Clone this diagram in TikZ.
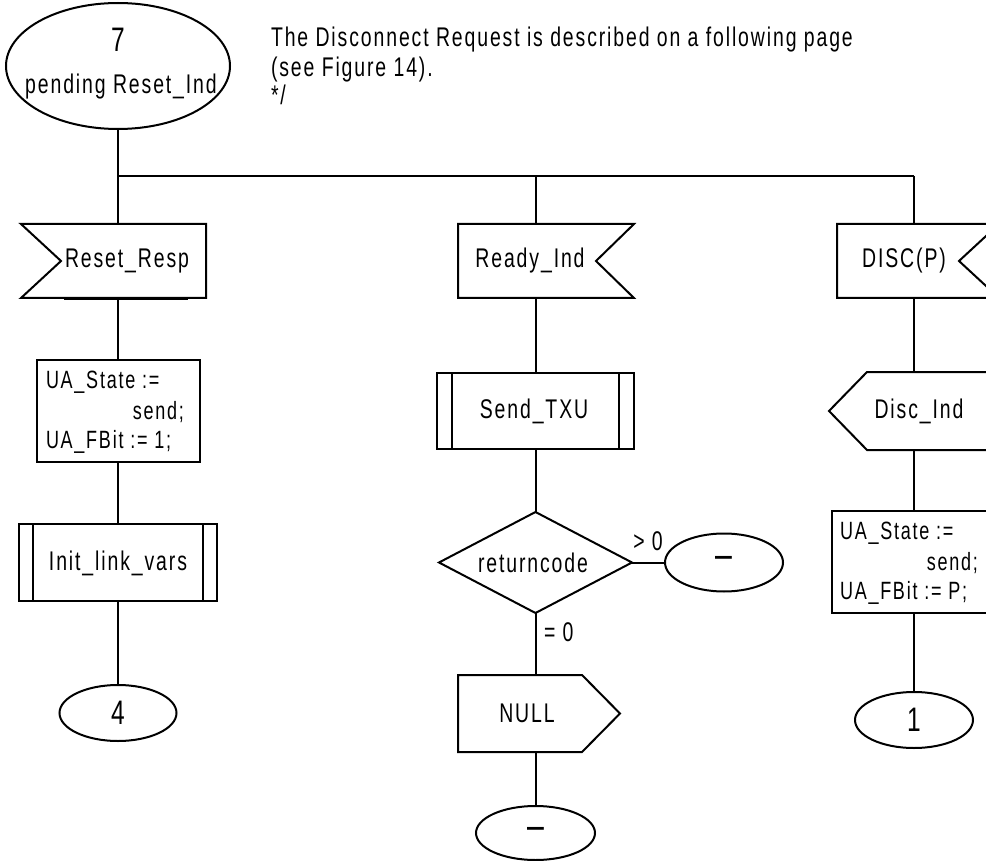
\documentclass[tikz,border=0pt]{standalone}
\usepackage{fontspec}
\setmainfont{Liberation Sans}[FakeStretch=0.72, LetterSpace=7]
\usetikzlibrary{shapes.geometric, calc}
\begin{document}
\begin{tikzpicture}[x=1pt, y=-1pt, line width=2pt,
  lab/.style={font=\fontsize{27}{30}\selectfont, inner sep=0pt},
  tlab/.style={font=\fontsize{25}{28}\selectfont, inner sep=0pt},
  big/.style={font=\fontsize{34}{36}\selectfont, inner sep=0pt},
  bx/.style 2 args={rectangle, minimum width=#1pt, minimum height=#2pt, inner sep=0pt},
  ell/.style 2 args={ellipse, draw, minimum width=#1pt, minimum height=#2pt, inner sep=0pt, font=\fontsize{34}{36}\selectfont},
  dsh/.style={font=\fontsize{42}{44}\selectfont}
]
\useasboundingbox (0,0) rectangle (986,861);

% start state
\node[ell={224}{126}] (st7) at (118,66) {};
\node[big] (st7num) at (118,40) {7};
\node[lab] (st7txt) at (121,87) {pending Reset\_Ind};

% comment text
\node[lab, anchor=west] (cm1) at (270,40) {The Disconnect Request is described on a following page};
\node[lab, anchor=west] (cm2) at (270,70) {(see Figure 14).};
\node[lab, anchor=west] (cm3) at (270,95) {*/};

% bus
\coordinate (busL) at (118,176);
\coordinate (busM) at (535.5,176);
\coordinate (busR) at (914,176);

% input signals
\node[bx={183}{72}] (rr) at (113.5,261) {};
\draw (rr.north west) -- (rr.north east) -- (rr.south east) -- (rr.south west) -- ($(rr.west)+(40,0)$) -- cycle;
\draw[line width=3.4pt] ($(rr.south west)+(43,0.8)$) -- ($(rr.south east)+(-18,0.8)$);
\node[lab, anchor=west] (rrt) at (64,261) {Reset\_Resp};

\node[bx={174}{72}] (ri) at (546,261) {};
\draw (ri.north west) -- (ri.north east) -- ($(ri.east)+(-38,0)$) -- (ri.south east) -- (ri.south west) -- cycle;
\node[lab] (rit) at (530,261) {Ready\_Ind};

\node[bx={160}{72}] (dp) at (918,261) {};
\draw (dp.north west) -- (dp.north east) -- ($(dp.east)+(-40,0)$) -- (dp.south east) -- (dp.south west) -- cycle;
\node[lab] (dpt) at (904,261) {DISC(P)};

% left column
\node[bx={163}{102}, draw] (t1) at (118,411) {};
\node[tlab, anchor=west] (t1a) at (45,382) {UA\_State :=};
\node[tlab, anchor=east] (t1b) at (185,412) {send;};
\node[tlab, anchor=west] (t1c) at (45,442) {UA\_FBit := 1;};

\node[bx={198}{77}, draw] (il) at (118,562.5) {};
\draw ($(il.north west)+(15,0)$) -- ($(il.south west)+(15,0)$);
\draw ($(il.north east)+(-15,0)$) -- ($(il.south east)+(-15,0)$);
\node[lab] (ilt) at (118,563) {Init\_link\_vars};

\node[ell={117}{56}] (e4) at (118,713) {4};

% middle column
\node[bx={197}{76}, draw] (stx) at (535.5,411) {};
\draw ($(stx.north west)+(16,0)$) -- ($(stx.south west)+(16,0)$);
\draw ($(stx.north east)+(-16,0)$) -- ($(stx.south east)+(-16,0)$);
\node[lab] (stxt) at (534,411) {Send\_TXU};

\node[bx={191}{99}] (rc) at (535.5,562.5) {};
\draw (rc.north) -- (rc.east) -- (rc.south) -- (rc.west) -- cycle;
\node[lab] (rct) at (533,563) {returncode};

\node[ell={118}{58}, dsh] (er) at (724,562.5) {--};
\node[lab] (gt) at (648,541) {> 0};

\node[bx={160}{75}] (nu) at (539,713.5) {};
\draw (nu.north west) -- ($(nu.north east)+(-38,0)$) -- (nu.east) -- ($(nu.south east)+(-38,0)$) -- (nu.south west) -- cycle;
\node[lab] (nut) at (527,713) {NULL};
\node[lab, anchor=west] (eq) at (543,632) {= 0};

\node[ell={119}{54}, dsh] (eb) at (535.5,833) {--};

% right column
\node[bx={170}{76}] (di) at (915,411) {};
\draw (di.west) -- ($(di.north west)+(38,0)$) -- (di.north east) -- (di.south east) -- ($(di.south west)+(38,0)$) -- cycle;
\node[lab] (dit) at (919,411) {Disc\_Ind};

\node[bx={164}{102}, draw] (t2) at (914,562) {};
\node[tlab, anchor=west] (t2a) at (839,533) {UA\_State :=};
\node[tlab, anchor=east] (t2b) at (979,563) {send;};
\node[tlab, anchor=west] (t2c) at (839,593) {UA\_FBit := P;};

\node[ell={118}{56}] (e1) at (914,720) {1};

% connectors
\draw (st7.south) -- (busL);
\draw (busL) -- (busR);
\draw (busL) -- (busL |- rr.north);
\draw (busM) -- (busM |- ri.north);
\draw (busR) -- (busR |- dp.north);
\draw (busL |- rr.south) -- (t1.north);
\draw (t1.south) -- (il.north);
\draw (il.south) -- (e4.north);
\draw (busM |- ri.south) -- (stx.north);
\draw (stx.south) -- (rc.north);
\draw (rc.south) -- (rc.south |- nu.north);
\draw (rc.south |- nu.south) -- (eb.north);
\draw (rc.east) -- (er.west);
\draw (busR |- dp.south) -- (busR |- di.north);
\draw (busR |- di.south) -- (t2.north);
\draw (t2.south) -- (e1.north);
\end{tikzpicture}
\end{document}
